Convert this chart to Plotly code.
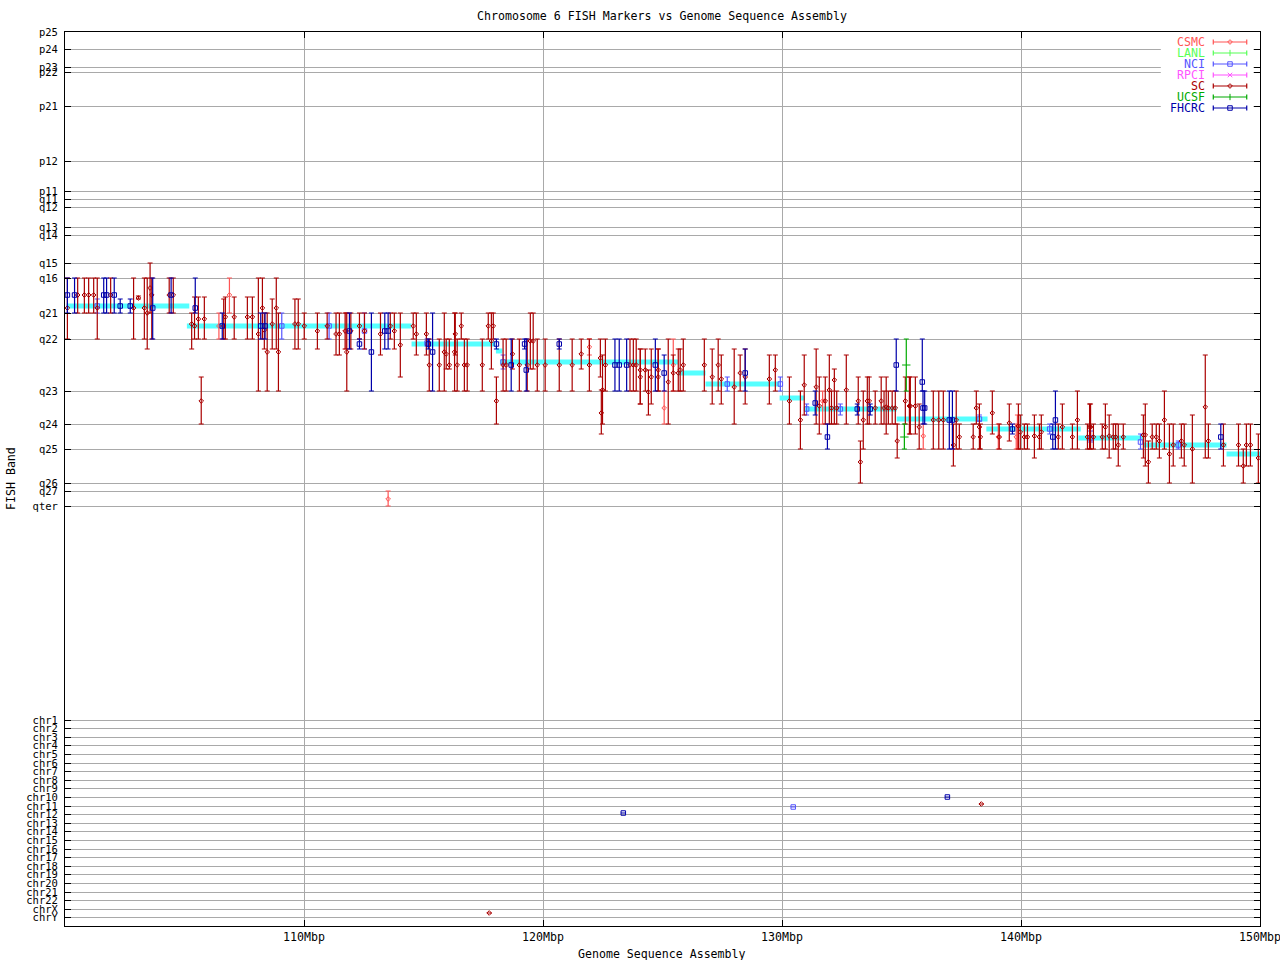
import plotly.graph_objects as go

# Cytogenetic band labels and their positions on the (non-linear) band axis
BAND_LABELS = ["p25","p24","p23","p22","p21","p12","p11","q11","q12","q13","q14","q15","q16","q21","q22","q23","q24","q25","q26","q27","qter",
               "chr1","chr2","chr3","chr4","chr5","chr6","chr7","chr8","chr9","chr10","chr11","chr12","chr13","chr14","chr15","chr16","chr17","chr18","chr19","chr20","chr21","chr22","chrX","chrY"]
BAND_POS = [32,49,67,72,106,161,191,199,207,227,235,263,278,313,339,391,424,449,483,491,506,
            720,728,737,745,754,763,771,780,788,797,806,814,823,831,840,849,857,866,874,883,892,900,909,917]

# Assembly-vs-band step line (start Mbp, end Mbp, band position)
STEP_START = [100.07,105.10,114.50,118.03,118.20,125.65,126.80,129.90,130.96,134.80,138.55,142.40,145.10,148.60]
STEP_END   = [105.20,114.50,118.00,118.30,125.65,126.80,129.90,130.96,134.80,138.60,142.50,145.10,148.60,150.00]
STEP_POS   = [306,326,344,351,362,373,384,398,409,419,429,438,445,454]

# SC
SC_x = [100.10,100.53,100.81,100.99,101.20,101.35,101.91,102.87,103.07,103.32,103.44,103.56,103.63,104.36,104.53,105.30,105.42,105.58,105.83,105.70,
        106.64,106.71,107.08,107.63,107.84,108.09,108.26,108.34,108.46,108.67,108.84,108.93,109.62,109.76,110.01,110.56,110.97,111.34,111.48,111.72,
        111.79,111.96,112.32,112.53,113.20,113.61,113.78,114.03,114.57,114.70,115.12,115.24,115.66,115.87,115.95,116.08,116.30,116.33,116.41,116.58,
        116.71,116.83,117.46,117.71,117.84,117.92,118.05,118.33,118.46,118.72,119.01,119.34,119.47,119.59,119.76,120.09,120.68,121.22,121.60,121.94,
        122.40,122.49,122.44,122.61,123.64,123.78,123.90,124.07,124.07,124.28,124.41,124.53,124.82,124.82,125.24,125.45,125.66,125.74,125.87,126.75,
        127.08,127.33,127.46,128.00,128.25,128.46,129.47,129.72,130.31,130.77,130.93,131.43,131.56,131.81,131.98,132.07,132.19,132.29,132.69,133.19,
        133.28,133.40,133.57,133.65,133.90,134.15,134.27,134.36,134.45,134.61,134.74,134.82,135.16,135.33,135.37,135.58,135.74,136.33,136.56,136.75,
        137.17,137.29,137.42,138.00,138.13,138.26,138.30,138.80,139.09,139.51,139.89,139.97,140.14,140.27,140.56,140.77,140.85,141.56,141.73,142.15,
        142.36,142.78,142.87,142.91,143.03,143.40,143.53,143.69,143.86,143.96,144.07,144.28,145.12,145.20,145.33,145.49,145.66,145.79,146.00,146.21,
        146.37,146.71,146.83,147.17,147.71,147.84,148.47,149.10,149.30,149.43,149.60,149.93,117.75,138.34]
SC_y = [308,295,295,295,295,308,295,308,298,308,313,288,295,295,295,324,326,319,319,401,
        326,317,317,317,317,334,308,330,352,324,308,352,324,324,326,331,326,334,334,331,
        352,331,326,331,334,326,331,345,326,334,334,365,365,352,354,365,352,334,365,326,
        365,365,365,326,341,326,401,365,365,354,365,365,341,341,365,365,365,365,354,365,
        358,390,413,365,365,365,365,370,377,370,392,377,370,377,382,373,373,370,365,365,
        377,365,379,387,373,377,379,370,401,420,385,387,406,401,390,408,380,408,390,401,
        462,420,401,401,408,401,408,407,408,408,408,441,401,406,406,406,427,420,420,420,
        445,420,437,437,408,427,437,413,437,423,426,432,437,437,436,437,432,437,427,437,
        420,437,427,427,437,437,427,436,437,437,445,437,435,435,462,437,437,441,420,454,
        445,441,445,449,407,441,445,445,466,445,445,458,913,804]
SC_top = [278,278,278,278,278,278,278,278,296,278,278,263,278,278,278,313,297,297,297,377,
          299,297,297,297,297,278,278,313,313,299,278,313,299,299,313,313,313,313,313,313,
          313,313,313,313,313,313,313,313,313,313,313,339,339,313,339,339,313,313,339,313,
          339,339,339,313,313,313,377,339,339,339,339,339,313,313,339,339,339,339,339,339,
          339,355,390,339,339,339,339,349,349,349,370,349,349,349,339,355,349,349,339,339,
          349,339,355,349,355,349,355,355,377,391,355,349,377,377,355,391,369,391,355,377,
          441,391,377,377,391,377,391,377,391,391,391,424,377,377,377,377,404,391,391,391,
          424,391,424,424,391,404,424,391,424,404,404,415,424,424,415,424,415,424,404,424,
          391,424,404,404,424,424,404,415,424,424,424,424,415,404,441,424,424,424,391,424,
          424,424,424,415,355,424,424,424,449,424,424,434,913,804]
SC_bottom = [339,313,313,313,313,339,313,339,299,339,349,313,339,313,313,349,339,339,339,424,
             339,339,339,339,339,391,339,349,391,349,349,391,349,349,339,349,339,355,355,349,
             391,349,339,349,355,339,349,377,339,355,355,391,391,391,369,369,391,355,391,339,
             391,391,391,339,369,339,424,391,391,369,391,391,369,369,391,391,391,391,369,391,
             377,424,434,391,391,391,391,404,404,391,415,404,391,391,424,391,391,391,391,391,
             404,391,404,424,391,404,404,391,424,449,415,424,434,424,424,424,424,424,424,424,
             483,449,424,424,424,424,424,434,424,424,424,458,424,434,434,434,449,449,449,449,
             466,449,449,449,424,449,449,434,449,441,449,449,449,449,458,449,449,449,449,449,
             449,449,449,449,449,449,449,458,449,449,466,449,458,466,483,449,449,458,449,483,
             466,458,466,483,458,458,466,466,483,466,466,483,913,804]

# FHCRC
FHCRC_x = [100.10,100.40,101.62,101.74,102.06,102.31,102.73,103.67,104.44,105.45,106.58,108.19,108.37,111.90,112.32,112.82,113.38,113.52,115.20,115.38,
           118.05,118.67,119.23,119.30,120.68,123.01,123.19,123.50,124.70,125.07,128.46,131.39,131.90,133.15,133.69,134.78,135.87,135.90,135.97,137.00,
           137.13,139.64,141.33,141.44,148.36,123.36,136.92]
FHCRC_y = [295,295,295,295,295,306,306,308,295,308,326,326,326,331,344,352,331,331,344,352,
           344,365,344,370,344,365,365,365,365,373,373,403,437,409,409,365,382,408,408,420,
           420,429,437,420,437,813,797]
FHCRC_top = [278,278,278,278,278,299,299,278,278,278,313,313,313,313,339,313,313,313,339,313,
             339,339,339,339,339,339,339,339,339,355,349,391,424,404,404,339,339,391,391,391,
             391,424,424,391,424,813,797]
FHCRC_bottom = [313,313,313,313,313,313,313,339,313,313,339,339,339,349,349,391,349,349,349,391,
                349,391,349,391,349,391,391,391,391,391,391,415,449,415,415,391,391,424,424,449,
                449,434,449,449,449,813,797]

# CSMC
CSMC_x = [106.44,106.88,111.76,113.52,121.94,125.07,125.45,131.70,135.91,139.05,139.80,139.85]
CSMC_y = [326,295,331,499,347,408,365,401,436,437,437,426]
CSMC_top = [313,278,313,491,339,391,339,391,424,424,424,415]
CSMC_bottom = [339,313,349,506,355,424,391,424,449,449,449,449]

# NCI
NCI_x = [101.35,109.07,111.05,112.53,115.15,118.33,127.71,129.93,131.03,132.44,138.26,141.20,142.91,145.00,146.58,130.47]
NCI_y = [306,326,326,331,343,362,384,384,409,409,419,429,438,442,445,807]
NCI_top = [299,313,313,313,339,355,377,377,404,404,415,424,431,434,441,807]
NCI_bottom = [313,339,339,349,346,369,391,391,415,415,421,434,442,449,449,807]

# UCSF
UCSF_x = [135.20,135.12]
UCSF_y = [365,437]
UCSF_top = [339,424]
UCSF_bottom = [391,449]

# Legend
LEGEND_NAMES = ["CSMC","LANL","NCI","RPCI","SC","UCSF","FHCRC"]
LEGEND_POS = [42,53,64,75,86,97,108]
LEGEND_COLORS = ["#ff5555","#55ff55","#5555ff","#ff55ff","#aa0000","#00aa00","#0000aa"]
LEGEND_SYMBOLS = ["diamond-open","line-ns-open","square-open","x-thin-open","diamond-open","line-ns-open","square-open"]

X_TICKS = [110,120,130,140,150]
X_LABELS = ["110Mbp","120Mbp","130Mbp","140Mbp","150Mbp"]
FONT = "DejaVu Sans Mono"
FS = 11.6
FS_BAND = 10.5

fig = go.Figure()

# step line
sx, sy = [], []
for a, b, p in zip(STEP_START, STEP_END, STEP_POS):
    sx += [a, b, None]
    sy += [p, p, None]
fig.add_trace(go.Scatter(x=sx, y=sy, mode="lines", line=dict(color="#55ffff", width=5), showlegend=False, name="assembly"))

def series(name, xs, ys, tops, bottoms, color, symbol, size):
    assert len(xs) == len(ys) == len(tops) == len(bottoms), name
    fig.add_trace(go.Scatter(
        x=xs, y=ys, mode="markers", name=name, showlegend=False,
        marker=dict(symbol=symbol, size=size, color=color, line=dict(color=color, width=1)),
        error_y=dict(type="data", symmetric=False,
                     array=[b - y for b, y in zip(bottoms, ys)],
                     arrayminus=[y - t for y, t in zip(ys, tops)],
                     color=color, thickness=1.2, width=2.5),
    ))

series("CSMC", CSMC_x, CSMC_y, CSMC_top, CSMC_bottom, "#ff5555", "diamond-open", 3.6)
series("NCI", NCI_x, NCI_y, NCI_top, NCI_bottom, "#5555ff", "square-open", 4.5)
series("SC", SC_x, SC_y, SC_top, SC_bottom, "#aa0000", "diamond-open", 3.6)
series("UCSF", UCSF_x, UCSF_y, UCSF_top, UCSF_bottom, "#00aa00", "line-ew-open", 6)
series("FHCRC", FHCRC_x, FHCRC_y, FHCRC_top, FHCRC_bottom, "#0000aa", "square-open", 4.5)

# key samples
KEY_CENTER = 148.745
KEY_HALF = 0.70
KEY_TEXT_RIGHT = 147.78
annotations = []
for n, p, c, s in zip(LEGEND_NAMES, LEGEND_POS, LEGEND_COLORS, LEGEND_SYMBOLS):
    fig.add_trace(go.Scatter(
        x=[KEY_CENTER], y=[p], mode="markers", showlegend=False, hoverinfo="skip",
        marker=dict(symbol=s, size=3.6 if "diamond" in s else 4.5, color=c, line=dict(color=c, width=1)),
        error_x=dict(type="data", array=[KEY_HALF], color=c, thickness=1.2, width=2.5),
    ))
    annotations.append(dict(x=KEY_TEXT_RIGHT, y=p, xref="x", yref="y", text=n, showarrow=False,
                            xanchor="right", yanchor="middle",
                            font=dict(family=FONT, size=FS, color=c)))

# axis captions placed below and beside the frame
annotations.append(dict(x=(662-65)/1195, y=-(953.5-926)/894, xref="paper", yref="paper", text="Genome Sequence Assembly", showarrow=False,
                        xanchor="center", yanchor="middle", font=dict(family=FONT, size=FS)))
annotations.append(dict(x=-54/1195, y=1-(479-32)/894, xref="paper", yref="paper", text="FISH Band", showarrow=False, textangle=-90,
                        xanchor="center", yanchor="middle", font=dict(family=FONT, size=FS)))

fig.update_layout(
    width=1280, height=960,
    margin=dict(l=65, r=20, t=32, b=34, pad=0),
    plot_bgcolor="white", paper_bgcolor="white",
    font=dict(family=FONT, size=FS, color="black"),
    showlegend=False,
    title=dict(text="Chromosome 6 FISH Markers vs Genome Sequence Assembly",
               x=662/1280, xref="container", xanchor="center",
               y=1-15.5/960, yanchor="middle", font=dict(family=FONT, size=FS)),
    annotations=annotations,
    shapes=[dict(type="rect", xref="x", yref="y", x0=145.85, x1=149.72, y0=33, y1=114,
                 fillcolor="white", line=dict(width=0), layer="between")],
    xaxis=dict(range=[100,150], tickmode="array", tickvals=X_TICKS, ticktext=X_LABELS, automargin=False,
               showgrid=True, gridcolor="#a9a9a9", gridwidth=1, zeroline=False,
               showline=True, linecolor="black", linewidth=1, mirror="ticks",
               ticks="inside", ticklen=6, tickcolor="black", tickwidth=1, ticklabeloverflow="allow",
               tickfont=dict(family=FONT, size=FS)),
    yaxis=dict(range=[926,32], tickmode="array", tickvals=BAND_POS, ticktext=BAND_LABELS, automargin=False,
               showgrid=True, gridcolor="#a9a9a9", gridwidth=1, zeroline=False,
               showline=True, linecolor="black", linewidth=1, mirror="ticks",
               ticks="inside", ticklen=6, tickcolor="black", tickwidth=1, ticklabelstandoff=4,
               tickfont=dict(family=FONT, size=FS_BAND)),
)

fig.write_html("out.html", post_script="document.body.style.margin='0';", config=dict(displayModeBar=False))
